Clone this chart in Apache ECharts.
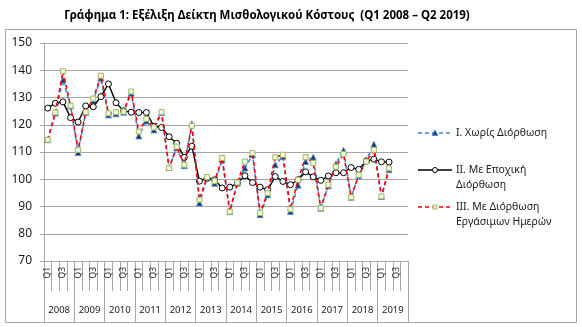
<!DOCTYPE html>
<html>
<head>
<meta charset="utf-8">
<script src="https://cdn.jsdelivr.net/npm/echarts@6/dist/echarts.min.js"></script>
<style>
  html, body { margin: 0; padding: 0; background: #ffffff; }
  #chart { width: 582px; height: 327px; }
</style>
</head>
<body>
<div id="chart"></div>
<script>
// Quarters Q1 2008 – Q4 2019 on the axis; values run to Q2 2019
const years = ['2008','2009','2010','2011','2012','2013','2014','2015','2016','2017','2018','2019'];
const quarterNames = ['Q1','Q2','Q3','Q4'];

// I. Χωρίς Διόρθωση
const seriesRaw = [
  114.5, 124.3, 136.4, 126.9,
  109.8, 124.5, 128.9, 137.2,
  123.6, 124.0, 124.6, 131.6,
  115.9, 121.4, 118.1, 124.5,
  104.3, 111.5, 105.0, 120.3,
  91.3, 100.5, 98.5, 107.2,
  88.1, 98.6, 104.1, 109.0,
  87.0, 94.3, 105.3, 108.4,
  88.2, 97.8, 106.5, 108.1,
  89.4, 97.6, 105.6, 110.6,
  93.4, 101.3, 107.1, 112.8,
  93.7, 103.5
];

// II. Με Εποχική Διόρθωση
const seriesSeasonal = [
  126.1, 127.9, 128.4, 122.6,
  121.0, 126.9, 126.6, 130.3,
  135.0, 128.1, 125.1, 124.6,
  124.5, 124.5, 119.4, 119.0,
  115.6, 113.2, 108.0, 112.1,
  99.3, 100.4, 99.8, 96.8,
  97.1, 98.6, 101.3, 98.8,
  97.1, 96.2, 101.0, 99.2,
  98.0, 99.8, 102.7, 100.9,
  99.6, 101.2, 102.4, 102.4,
  104.3, 103.6, 106.7, 107.4,
  106.4, 106.3
];

// III. Με Διόρθωση Εργάσιμων Ημερών
const seriesWorkdays = [
  114.5, 124.5, 139.6, 127.0,
  110.8, 124.6, 129.6, 138.0,
  124.2, 124.6, 124.8, 132.2,
  117.5, 122.1, 119.0, 124.6,
  104.1, 112.0, 105.3, 119.6,
  92.5, 100.8, 99.3, 107.8,
  88.1, 98.8, 106.5, 109.6,
  87.6, 94.9, 108.1, 109.0,
  89.0, 99.8, 108.1, 106.0,
  89.4, 98.0, 104.6, 109.3,
  93.4, 101.6, 106.5, 110.8,
  93.7, 104.0
];

const seriesNames = [
  'I. Χωρίς Διόρθωση',
  'II. Με Εποχική Διόρθωση',
  'III. Με Διόρθωση Εργάσιμων Ημερών'
];

const quarters = [];
years.forEach(function () { quarterNames.forEach(function (q) { quarters.push(q); }); });

const FONT = 'Noto Sans';
const TEXT = '#1a1a1a';
const GRID = '#a6a6a6';

const chart = echarts.init(document.getElementById('chart'), null, { renderer: 'canvas' });

// Legend drawn as graphic groups so the marker sits on the first text line
function legendEntry(y, lines, line, symbol) {
  const children = [
    { type: 'line', shape: { x1: 418, y1: y, x2: 452, y2: y }, style: line }
  ];
  children.push(symbol);
  lines.forEach(function (t, k) {
    children.push({
      type: 'text', x: 456, y: y + k * 15,
      style: { text: t, font: '10.5px "' + FONT + '"', fill: TEXT, textVerticalAlign: 'middle' }
    });
  });
  return { type: 'group', children: children };
}

chart.setOption({
  backgroundColor: '#ffffff',
  animation: false,
  title: {
    text: 'Γράφημα 1: Εξέλιξη Δείκτη Μισθολογικού Κόστους  (Q1 2008 – Q2 2019)',
    left: 262, top: 5, textAlign: 'center',
    textStyle: { fontFamily: FONT, fontSize: 11.5, fontWeight: 'bold', color: '#000000' }
  },
  grid: { left: 44, right: 174, top: 43, bottom: 66, containLabel: false },
  xAxis: [
    {
      type: 'category', data: quarters, boundaryGap: true, position: 'bottom',
      axisLine: { show: true, lineStyle: { color: GRID, width: 1 } },
      axisTick: { show: true, interval: 0, length: 30, lineStyle: { color: GRID } },
      axisLabel: {
        interval: 1, rotate: 90, margin: 6,
        fontFamily: FONT, fontSize: 8.5, color: TEXT
      },
      splitLine: { show: false }
    },
    {
      type: 'category', data: years, boundaryGap: true, position: 'bottom',
      axisLine: { show: false },
      axisTick: { show: true, interval: 0, length: 61, lineStyle: { color: GRID } },
      axisLabel: { interval: 0, margin: 44, fontFamily: FONT, fontSize: 9.5, color: TEXT },
      splitLine: { show: false }
    }
  ],
  yAxis: {
    type: 'value', min: 70, max: 150, interval: 10,
    axisLine: { show: true, lineStyle: { color: GRID } },
    axisTick: { show: true, length: 4, lineStyle: { color: GRID } },
    axisLabel: { margin: 12, fontFamily: FONT, fontSize: 12, color: TEXT },
    splitLine: { show: true, lineStyle: { color: GRID, width: 1.2 } }
  },
  series: [
    {
      name: seriesNames[0], type: 'line', data: seriesRaw, xAxisIndex: 0,
      symbol: 'triangle', symbolSize: 6, showAllSymbol: true,
      lineStyle: { color: '#3d85d6', width: 1.6, type: [4, 3] },
      itemStyle: { color: '#1f3864', borderColor: '#4a90e2', borderWidth: 0.8 },
      z: 2
    },
    {
      name: seriesNames[1], type: 'line', data: seriesSeasonal, xAxisIndex: 0,
      symbol: 'circle', symbolSize: 6, showAllSymbol: true,
      lineStyle: { color: '#000000', width: 1.4, type: 'solid' },
      itemStyle: { color: '#ffffff', borderColor: '#000000', borderWidth: 1 },
      z: 3
    },
    {
      name: seriesNames[2], type: 'line', data: seriesWorkdays, xAxisIndex: 0,
      symbol: 'rect', symbolSize: 5, showAllSymbol: true,
      lineStyle: { color: '#ff0000', width: 1.6, type: [4, 3] },
      itemStyle: { color: '#f4f8e6', borderColor: '#9bbb59', borderWidth: 1 },
      z: 4
    }
  ],
  graphic: [
    { type: 'rect', shape: { x: 5.5, y: 29.5, width: 571, height: 293 },
      style: { fill: 'none', stroke: '#a6a6a6', lineWidth: 1 }, silent: true },
    legendEntry(133, ['I. Χωρίς Διόρθωση'],
      { stroke: '#3d85d6', lineWidth: 1.6, lineDash: [4, 3] },
      { type: 'polygon', shape: { points: [[435, 130], [438, 135.5], [432, 135.5]] },
        style: { fill: '#1f3864', stroke: '#4a90e2', lineWidth: 0.8 } }),
    legendEntry(170, ['II. Με Εποχική', 'Διόρθωση'],
      { stroke: '#000000', lineWidth: 1.4 },
      { type: 'circle', shape: { cx: 435, cy: 170, r: 2.5 },
        style: { fill: '#ffffff', stroke: '#000000', lineWidth: 1 } }),
    legendEntry(207, ['III. Με Διόρθωση', 'Εργάσιμων Ημερών'],
      { stroke: '#ff0000', lineWidth: 1.6, lineDash: [4, 3] },
      { type: 'rect', shape: { x: 433, y: 205, width: 4, height: 4 },
        style: { fill: '#f4f8e6', stroke: '#9bbb59', lineWidth: 1 } })
  ]
});
</script>
</body>
</html>
